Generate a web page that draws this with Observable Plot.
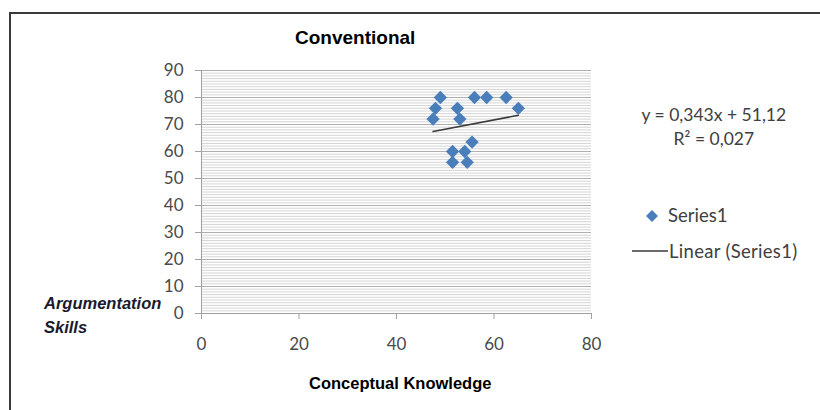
<!DOCTYPE html>
<html>
<head>
<meta charset="utf-8">
<script src="https://cdn.jsdelivr.net/npm/d3@7"></script>
<script src="https://cdn.jsdelivr.net/npm/@observablehq/plot@0.6"></script>
<style>
  html, body { margin: 0; padding: 0; background: #fff; }
  #wrap { position: relative; width: 820px; height: 410px; overflow: hidden; background: #fff; }
  #frame { position: absolute; left: 9px; top: 12px; width: 830px; height: 420px;
           border-left: 2px solid #3a3a3a; border-top: 2px solid #3a3a3a; }
  #chart { position: absolute; left: 0; top: 0; }
  .t { position: absolute; white-space: nowrap; }
  #title { font-family: "Liberation Sans", Arial, sans-serif; font-weight: bold; font-size: 19px; color: #000; }
  #xlab { font-family: "Liberation Sans", Arial, sans-serif; font-weight: bold; font-size: 16.5px; color: #000; }
  #ylab { font-family: "Liberation Sans", Arial, sans-serif; font-weight: bold; font-style: italic; font-size: 16.5px; color: #1a1a2e; line-height: 24px; }
  .cal { font-family: Lato, "Open Sans", sans-serif; color: #404040; }
</style>
</head>
<body>
<div id="wrap">
  <div id="frame"></div>
  <div id="chart"></div>
  <div class="t" id="title"></div>
  <div class="t" id="xlab"></div>
  <div class="t" id="ylab"></div>
  <div class="t cal" id="eq" style="text-align:center;line-height:24px;font-size:17.5px;"></div>
  <div class="t cal" id="leg1" style="font-size:18.5px;"></div>
  <div class="t cal" id="leg2" style="font-size:18.5px;letter-spacing:0.3px;"></div>
</div>
<script>
// ---- data ----
const conceptualKnowledge = [49, 48, 47.5, 52.5, 53, 56, 58.5, 62.5, 65, 51.5, 51.5, 54.5, 54, 55.5];
const argumentationSkills = [80, 76, 72, 76, 72, 80, 80, 80, 76, 60, 56, 56, 60, 63.5];
const trendSlope = 0.343;
const trendIntercept = 51.12;
const rSquared = "0,027";
const xTicks = [0, 20, 40, 60, 80];
const yTicks = [0, 10, 20, 30, 40, 50, 60, 70, 80, 90];
const yMinorStep = 1;
const seriesName = "Series1";
const trendName = "Linear (Series1)";
const titleText = "Conventional";
const xTitle = "Conceptual Knowledge";
const yTitle = ["Argumentation", "Skills"];

// ---- build ----
const points = conceptualKnowledge.map((x, i) => ({x, y: argumentationSkills[i]}));
const xExt = d3.extent(conceptualKnowledge);
const trend = xExt.map(x => ({x, y: trendSlope * x + trendIntercept}));
const minor = d3.range(yTicks[0], yTicks[yTicks.length - 1] + yMinorStep / 2, yMinorStep);

const blue = "#4a7ebb";

const chart = Plot.plot({
  width: 820,
  height: 410,
  marginLeft: 201,
  marginRight: 229,
  marginTop: 70,
  marginBottom: 97,
  x: {domain: [0, 80]},
  y: {domain: [0, 90]},
  style: {fontFamily: "Lato, 'Open Sans', sans-serif", fontSize: "17px", color: "#4a4a4a", background: "transparent"},
  marks: [
    Plot.ruleY(minor, {stroke: "#d4d4d4", strokeWidth: 1}),
    Plot.ruleY(yTicks, {stroke: "#b0b0b0", strokeWidth: 1}),
    Plot.axisY({ticks: yTicks, tickSize: 6, tickPadding: 12, label: null, stroke: "#a0a0a0"}),
    Plot.axisX({ticks: xTicks, tickSize: 6, tickPadding: 18, label: null, stroke: "#a0a0a0"}),
    Plot.ruleX([0], {stroke: "#a0a0a0"}),
    Plot.ruleY([0], {stroke: "#a0a0a0"}),
    Plot.line(trend, {x: "x", y: "y", stroke: "#3a3a3a", strokeWidth: 1.5}),
    Plot.dot(points, {x: "x", y: "y", symbol: "diamond2", r: 6, fill: blue, stroke: "none"})
  ]
});
document.getElementById("chart").appendChild(chart);

const fmt = v => String(v).replace(".", ",");
function place(id, html, left, top, center) {
  const el = document.getElementById(id);
  el.innerHTML = html;
  el.style.top = top + "px";
  if (center) {
    el.style.left = (left - el.offsetWidth / 2) + "px";
  } else {
    el.style.left = left + "px";
  }
}
place("title", titleText, 355, 27, true);
place("xlab", xTitle, 400, 374, true);
place("ylab", yTitle.join("<br>"), 44, 291, false);
place("eq", `y = ${fmt(trendSlope)}x + ${fmt(trendIntercept)}<br>R² = ${rSquared}`, 714, 103, true);
place("leg1", `<svg width="14" height="14" style="vertical-align:-1px;margin-right:9px"><path d="M7,1L13,7L7,13L1,7Z" fill="${blue}"/></svg>${seriesName}`, 645, 204, false);
place("leg2", `<svg width="36" height="10" style="vertical-align:2px;margin-right:1px"><line x1="0" x2="36" y1="5" y2="5" stroke="#3a3a3a" stroke-width="1.5"/></svg>${trendName}`, 632, 240, false);
</script>
</body>
</html>
